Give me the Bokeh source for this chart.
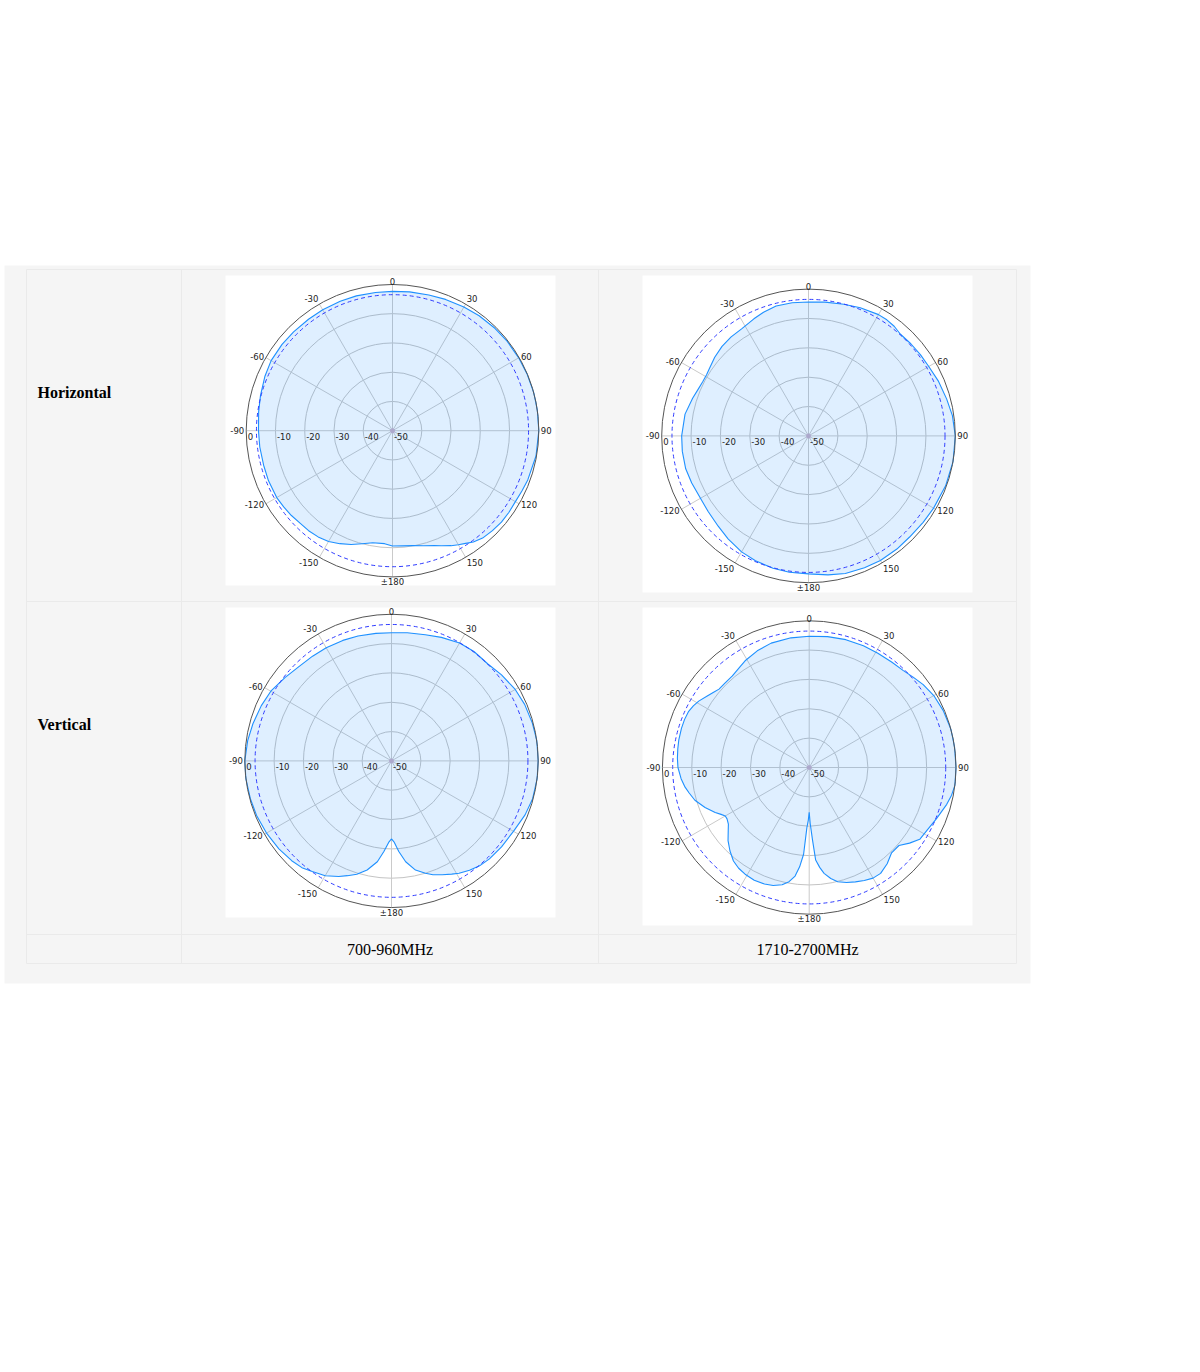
import math
from bokeh.plotting import figure
from bokeh.models import Range1d
from bokeh.embed import file_html
from bokeh.resources import INLINE
from bokeh.core.properties import value

# ---------------- data ----------------
ROW_LABELS = ["Horizontal", "Vertical"]
BAND_LABELS = ["700-960MHz", "1710-2700MHz"]

ANGLE_TICKS = [0, 30, 60, 90, 120, 150, 180, -150, -120, -90, -60, -30]
ANGLE_TICK_LABELS = ["0", "30", "60", "90", "120", "150", "\u00b1180",
                     "-150", "-120", "-90", "-60", "-30"]
DB_TICKS = [0, -10, -20, -30, -40, -50]
DB_TICK_LABELS = ["0", "-10", "-20", "-30", "-40", "-50"]
DB_MIN = -50
HALF_POWER_DB = -3.5

# Horizontal, 700-960MHz (angle deg, gain dB)
h_low_angle = [-180, -176, -170, -165, -160, -155, -150, -145, -140, -135, -130, -125,
               -120, -112, -105, -97, -90, -82, -75, -67, -60, -52, -45, -37, -30, -22,
               -15, -7, 0, 7, 15, 22, 30, 37, 45, 52, 60, 67, 75, 82, 90, 100, 110, 115,
               120, 125, 130, 135, 140, 144, 147, 150, 153, 157, 160, 165, 170, 175, 180]
h_low_db = [-10.6, -11.3, -11.1, -10.0, -8.6, -7.4, -6.3, -5.7, -5.4, -5.3, -4.9, -4.6,
            -4.3, -4.3, -4.4, -4.3, -4.2, -3.8, -3.3, -2.6, -2.1, -2.1, -2.2, -2.3, -2.3,
            -2.3, -2.3, -2.4, -2.4, -2.2, -2.0, -1.6, -1.2, -0.8, -0.5, -0.3, -0.2, -0.1,
            0.0, 0.0, 0.0, -0.2, -0.8, -1.2, -1.5, -1.4, -1.4, -1.7, -2.1, -3.0, -4.1,
            -5.0, -5.9, -7.3, -8.2, -9.3, -10.1, -10.5, -10.6]

# Horizontal, 1710-2700MHz
h_high_angle = [-180, -172, -165, -157, -150, -142, -135, -127, -120, -112, -105, -97,
                -90, -80, -72, -67, -63, -59, -56, -50, -44, -38, -32, -25, -20, -14,
                -7, 0, 7, 15, 22, 30, 34, 38, 42, 48, 54, 60, 67, 75, 82, 90, 100, 110,
                120, 127, 135, 142, 150, 157, 165, 172, 180]
h_high_db = [-3.0, -3.1, -3.3, -3.8, -4.4, -5.5, -6.5, -7.2, -7.5, -7.1, -6.7, -6.7,
             -6.8, -7.3, -8.5, -9.2, -9.5, -9.5, -9.2, -8.3, -7.6, -7.2, -7.0, -6.0,
             -5.2, -4.4, -4.3, -4.4, -4.1, -3.6, -2.9, -2.3, -2.3, -2.6, -3.3, -3.1,
             -2.9, -2.7, -2.0, -1.3, -0.5, 0.0, 0.0, -0.3, -0.8, -1.1, -1.3, -1.1, -1.0,
             -1.2, -1.5, -2.2, -3.0]

# Vertical, 700-960MHz
v_low_angle = [-180, -178, -175.2, -172, -167.4, -163, -159, -155.5, -150, -144.4, -140,
               -135, -128, -120, -112, -105, -97, -90, -82, -75, -67, -60, -52, -45, -37,
               -30, -22, -15, -7, 0, 7, 15, 22, 30, 37, 45, 52, 60, 67, 75, 82, 90, 97,
               105, 112, 120, 128, 135, 140, 144.5, 149, 152, 156, 160, 163.2, 167.6,
               172, 175.4, 178, 180]
v_low_db = [-23.4, -22.2, -19.0, -15.3, -11.9, -9.6, -8.1, -6.7, -4.8, -3.6, -2.5, -1.9,
            -1.3, -0.8, -0.4, -0.2, 0.0, 0.0, -0.5, -1.1, -1.8, -2.5, -3.9, -4.9, -5.3,
            -5.5, -5.7, -5.9, -6.2, -6.3, -6.0, -5.5, -4.6, -3.6, -3.3, -3.4, -2.4, -1.3,
            -0.7, -0.3, 0.0, 0.0, 0.0, -0.2, -0.9, -2.0, -2.4, -2.8, -3.3, -4.2, -5.3,
            -6.3, -7.5, -8.7, -10.0, -11.9, -15.3, -19.0, -22.2, -23.4]

# Vertical, 1710-2700MHz
v_high_angle = [-180, -179, -177.8, -176.3, -174.5, -172.6, -170, -167, -163, -159, -154,
                -149, -145, -141, -136.5, -132, -128, -125, -122, -120, -118, -115.6,
                -111, -106, -102, -99, -95, -90, -86, -82, -78, -73, -69, -65, -62, -59,
                -55, -52, -49, -45, -40, -35, -31, -24, -17, -8, 0, 8, 16, 24, 31, 38, 44,
                49, 54, 60, 67, 75, 82, 90, 97, 101, 105, 112, 118, 123, 127, 131, 136,
                141, 146, 150, 154, 158, 162, 166, 169, 172, 174, 176, 177.4, 179, 180]
v_high_db = [-34.7, -32.0, -29.5, -20.4, -16.0, -12.7, -10.5, -9.0, -8.0, -7.5, -7.3,
             -7.6, -8.1, -9.0, -10.8, -12.8, -15.0, -16.4, -17.0, -17.0, -16.0, -14.5,
             -12.0, -9.5, -8.2, -7.2, -6.2, -5.3, -5.0, -4.8, -4.6, -4.5, -4.5, -4.7,
             -5.3, -6.1, -7.6, -8.5, -9.3, -9.4, -9.3, -8.5, -7.6, -6.5, -5.7, -5.4,
             -5.3, -5.0, -4.7, -4.6, -4.6, -4.4, -4.0, -3.1, -2.0, -1.0, -0.4, 0.0, 0.0,
             0.0, 0.0, -0.6, -1.5, -3.3, -4.5, -5.1, -7.2, -9.5, -9.6, -7.8, -6.5, -6.5,
             -7.2, -8.0, -8.8, -9.9, -11.5, -13.6, -15.8, -18.4, -25.3, -31.0, -34.7]

# ---------------- figure ----------------
W, H = 1184, 1000
p = figure(width=W, height=H, x_range=Range1d(0, W), y_range=Range1d(H, 0),
           x_axis_type=None, y_axis_type=None, output_backend="svg",
           toolbar_location=None, min_border=0)
p.grid.visible = False
p.outline_line_color = None
p.background_fill_color = "white"
p.border_fill_color = "white"

# table panel
p.quad(left=[4], right=[1030], top=[265], bottom=[983], fill_color="#f5f5f5",
       line_color=None)
p.quad(left=[26], right=[1016], top=[269], bottom=[963], fill_color=None,
       line_color="#eaeaea", line_width=1)
p.segment(x0=[181, 598, 26, 26], y0=[269, 269, 601, 934],
          x1=[181, 598, 1016, 1016], y1=[963, 963, 601, 934],
          line_color="#eaeaea", line_width=1)

# image boxes
p.quad(left=[225, 642, 225, 642], right=[555, 972, 555, 972],
       top=[275, 275, 607, 607], bottom=[585, 592, 917, 925],
       fill_color="white", line_color=None)

LABEL_FONT = value("DejaVu Sans")


def rad(db, R):
    return R * (max(db, DB_MIN) - DB_MIN) / (-DB_MIN)


def polar(cx, cy, R, angles, dbs):
    # grid rings
    ring_db = [d for d in DB_TICKS if d not in (0, DB_MIN)]
    p.circle(x=[cx] * len(ring_db), y=[cy] * len(ring_db),
             radius=[rad(d, R) for d in ring_db], fill_color=None,
             line_color="#c4c4c4", line_width=1)
    # radial spokes
    spokes = list(range(0, 360, 30))
    p.segment(x0=[cx] * len(spokes), y0=[cy] * len(spokes),
              x1=[cx + R * math.sin(math.radians(a)) for a in spokes],
              y1=[cy - R * math.cos(math.radians(a)) for a in spokes],
              line_color="#cacaca", line_width=1)
    # pattern
    xs = [cx + rad(d, R) * math.sin(math.radians(a)) for a, d in zip(angles, dbs)]
    ys = [cy - rad(d, R) * math.cos(math.radians(a)) for a, d in zip(angles, dbs)]
    p.patch(xs, ys, fill_color="#1e90ff", fill_alpha=0.14, line_color=None)
    p.line(xs, ys, line_color="#1e90ff", line_width=1.1, line_join="round")
    # half power circle
    p.circle(x=[cx], y=[cy], radius=[rad(HALF_POWER_DB, R)], fill_color=None,
             line_color="#2f3cff", line_width=1, line_dash="4 3")
    # outer circle
    p.circle(x=[cx], y=[cy], radius=[R], fill_color=None, line_color="#555555",
             line_width=1)
    # centre mark
    p.scatter(x=[cx], y=[cy], size=5, fill_color="#a898c8", fill_alpha=0.6,
              line_color=None)
    # angle labels
    groups = {}
    for a, t in zip(ANGLE_TICKS, ANGLE_TICK_LABELS):
        s, c = math.sin(math.radians(a)), math.cos(math.radians(a))
        align = "left" if s > 0.3 else ("right" if s < -0.3 else "center")
        base = "bottom" if c > 0.7 else ("top" if c < -0.7 else "middle")
        g = 2 if abs(s) > 0.3 else (-1 if c > 0 else 0)
        x = cx + (R + g) * s
        y = cy - (R + g) * c
        groups.setdefault((align, base), ([], [], []))
        groups[(align, base)][0].append(x)
        groups[(align, base)][1].append(y)
        groups[(align, base)][2].append(t)
    for (align, base), (gx, gy, gt) in groups.items():
        p.text(x=gx, y=gy, text=gt, text_align=align, text_baseline=base,
               text_font=LABEL_FONT, text_font_size="8.5px", text_color="#222222")
    # radial (dB) labels
    p.text(x=[cx - rad(d, R) + 1.5 for d in DB_TICKS], y=[cy + 5.5] * len(DB_TICKS),
           text=DB_TICK_LABELS, text_align="left", text_baseline="middle",
           text_font=LABEL_FONT, text_font_size="8.5px", text_color="#222222")


polar(392.0, 430.2, 146.3, h_low_angle, h_low_db)
polar(808.0, 435.4, 146.8, h_high_angle, h_high_db)
polar(391.0, 760.4, 146.7, v_low_angle, v_low_db)
polar(808.7, 767.0, 146.8, v_high_angle, v_high_db)

# table texts
p.text(x=[37, 37], y=[391.5, 723.5], text=ROW_LABELS, text_align="left",
       text_baseline="middle", text_font=value("Liberation Serif"),
       text_font_size="16px", text_font_style="bold", text_color="#000000")
p.text(x=[389.5, 807.0], y=[948.5, 948.5], text=BAND_LABELS, text_align="center",
       text_baseline="middle", text_font=value("Liberation Serif"),
       text_font_size="16px", text_color="#000000")

open("out.html", "w").write(file_html(p, INLINE))
